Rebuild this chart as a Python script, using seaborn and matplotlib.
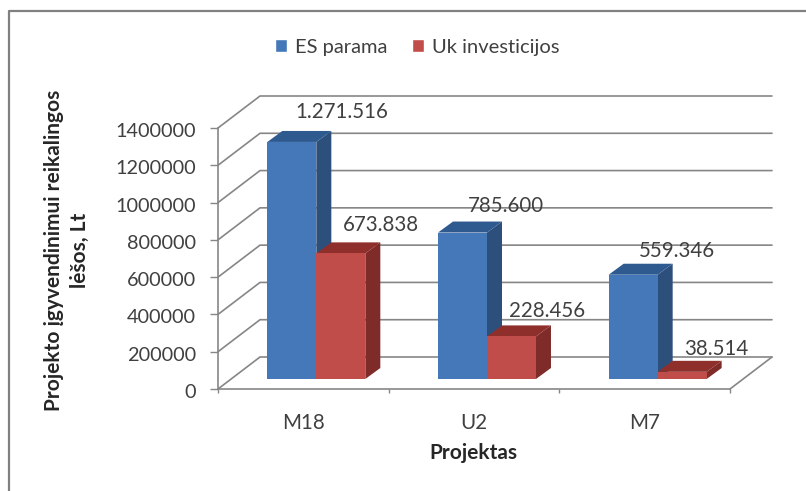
import matplotlib
matplotlib.use('Agg')
import pandas as pd
import seaborn as sns
import matplotlib.pyplot as plt
from matplotlib.lines import Line2D
from matplotlib.patches import Polygon
from matplotlib.transforms import Affine2D, IdentityTransform

projects = ['M18', 'U2', 'M7']
es_parama = [1271516, 785600, 559346]
uk_investicijos = [673838, 228456, 38514]
y_ticks = [0, 200000, 400000, 600000, 800000, 1000000, 1200000, 1400000]

W, H = 806, 491
GREY = '#868686'
TEXT = '#404040'

sns.set_theme(style='white')
plt.rcParams['font.family'] = ['Lato', 'DejaVu Sans']

df = pd.DataFrame({
    'Projektas': projects * 2,
    'Suma': es_parama + uk_investicijos,
    'Serija': ['ES parama'] * 3 + ['Uk investicijos'] * 3,
})

fig = plt.figure(figsize=(W / 100, H / 100), dpi=100, facecolor='white')
# only the top and left edges of the frame are in the picture
fig.add_artist(Line2D([9 / W, 9 / W, 1], [0, 1 - 11 / H, 1 - 11 / H], transform=fig.transFigure,
                      color='#808080', linewidth=1.6))

ax = fig.add_axes([218 / W, 1 - 389 / H, 512 / W, 261 / H])
sns.barplot(data=df, x='Projektas', y='Suma', hue='Serija', width=0.574, dodge=True,
            palette=['#4478b8', '#c04d4a'], saturation=1, ax=ax, zorder=3)
ax.set_xlim(-0.5, 2.5)
ax.set_ylim(0, 1400000)
ax.set_yticks(y_ticks)
ax.set_yticklabels([str(v) for v in y_ticks], fontsize=14.3, color=TEXT)
ax.set_xticks([-0.5, 0.5, 1.5, 2.5], minor=True)
ax.tick_params(axis='x', which='major', length=0, pad=17, labelsize=14.8, labelcolor=TEXT)
ax.tick_params(axis='x', which='minor', length=3, width=1, color=GREY, bottom=True)
ax.tick_params(axis='y', length=6, width=1, color=GREY, left=True, pad=10)
for lab in ax.get_yticklabels():
    lab.set_transform(lab.get_transform() + Affine2D().translate(0, -2))
ax.set_facecolor('none')
sns.despine(ax=ax, top=True, right=True)
ax.spines['left'].set_color(GREY)
ax.spines['bottom'].set_color(GREY)
ax.spines['left'].set_linewidth(1.2)
ax.spines['bottom'].set_linewidth(1.2)

ax.set_xlabel('Projektas', fontsize=15, fontweight='bold', color='#262626')
ax.xaxis.set_label_coords(473 / W, 1 - 453 / H, transform=fig.transFigure)
ax.xaxis.label.set_verticalalignment('center')
ax.set_ylabel('Projekto įgyvendinimui reikalingos\nlėšos, Lt', fontsize=15,
              fontweight='bold', color='#262626', linespacing=1.35)
ax.yaxis.set_label_coords(67 / W, 1 - 250 / H, transform=fig.transFigure)
ax.yaxis.label.set_verticalalignment('center')

# fake 3D: everything below is worked out in pixels from the real axes
ident = IdentityTransform()
to_px = ax.transData.transform


def wall_line(pts):
    ax.add_line(Line2D([p[0] for p in pts], [p[1] for p in pts], transform=ident,
                       color=GREY, linewidth=1.2, zorder=1, clip_on=False))


wall_dx, wall_dy = 42, 32
for v in y_ticks:
    x0, y0 = to_px((-0.5, v))
    x1, y1 = to_px((2.5, v))
    wall_line([(x0, y0), (x0 + wall_dx, y0 + wall_dy), (x1 + wall_dx, y1 + wall_dy)])
x1, y1 = to_px((2.5, 0))
wall_line([(x1, y1), (x1 + wall_dx, y1 + wall_dy)])

bar_dx, bar_dy = 13, 10   # bars stand a bit behind the front axis
deep_dx, deep_dy = 15, 11  # depth of one bar
shades = [('#2c4f7c', '#2f5a90'), ('#7f2b29', '#8e2f2c')]
label_shift = [[(50, 30), (43, 27), (44, 24)], [(40, 28), (36, 25), (34, 23)]]

for s, cont in enumerate(ax.containers):
    for b, bar in enumerate(cont):
        x, w, h = bar.get_x(), bar.get_width(), bar.get_height()
        z = 3 + 2 * s
        bar.set_zorder(z + 1)
        bar.set_edgecolor('none')
        bar.set_transform(ax.transData + Affine2D().translate(bar_dx, bar_dy))
        bar.set_clip_on(False)
        (lx, by) = to_px((x, 0))
        (rx, ty) = to_px((x + w, h))
        lx, rx = lx + bar_dx, rx + bar_dx
        by, ty = by + bar_dy, ty + bar_dy
        ax.add_patch(Polygon([(rx, by), (rx + deep_dx, by + deep_dy), (rx + deep_dx, ty + deep_dy), (rx, ty)],
                             transform=ident, facecolor=shades[s][0], edgecolor='none', zorder=z, clip_on=False))
        ax.add_patch(Polygon([(lx, ty), (lx + deep_dx, ty + deep_dy), (rx + deep_dx, ty + deep_dy), (rx, ty)],
                             transform=ident, facecolor=shades[s][1], edgecolor='none', zorder=z, clip_on=False))
        label = f'{int(round(h)):,}'.replace(',', '.')
        off = (label_shift[s][b][0] + bar_dx, label_shift[s][b][1] + bar_dy)
        ax.annotate(label, (x + w / 2, h), xytext=off, textcoords='offset pixels',
                    ha='center', va='center', fontsize=14.8, color=TEXT, zorder=10, annotation_clip=False)

handles, labels = ax.get_legend_handles_labels()
ax.legend(handles, labels, loc='center', bbox_to_anchor=(417 / W, 1 - 47 / H),
          bbox_transform=fig.transFigure, ncol=2, frameon=False, fontsize=14.5,
          handlelength=0.6, handleheight=0.6, handletextpad=0.4, columnspacing=1.2,
          labelcolor=TEXT)

fig.savefig('out.png', dpi=100)
